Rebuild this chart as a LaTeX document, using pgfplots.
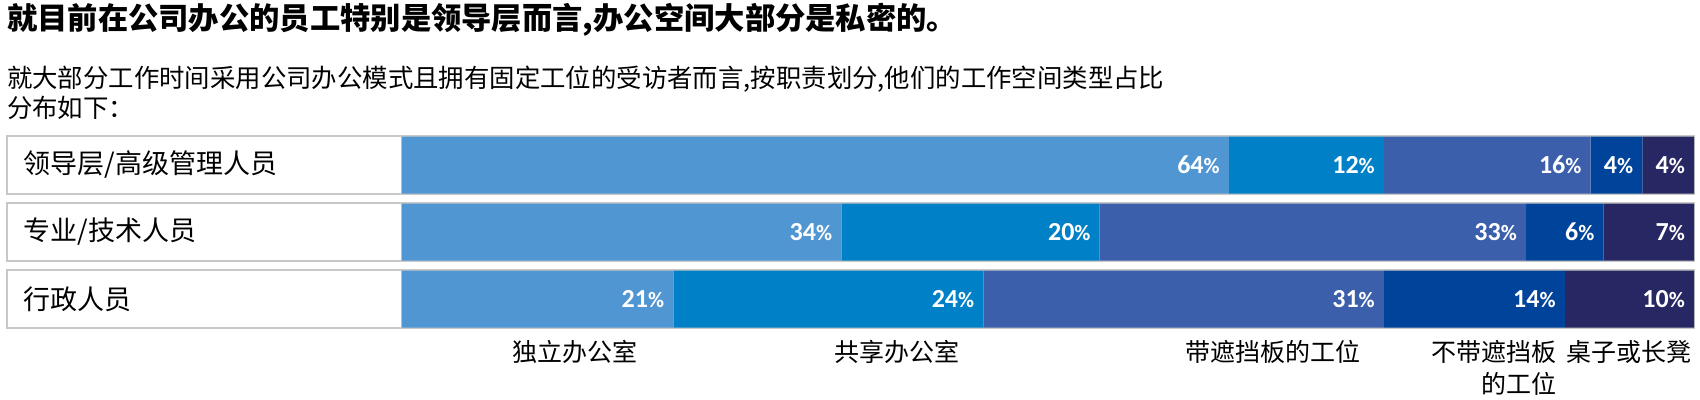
\documentclass[border=0pt]{standalone}
\usepackage{fontspec}
\setmainfont{Carlito}
\newfontfamily\cjk{Noto Sans CJK SC}
\usepackage{pgfplots}
\pgfplotsset{compat=1.18}
\definecolor{c1}{HTML}{5096D2}
\definecolor{c2}{HTML}{0080C6}
\definecolor{c3}{HTML}{3C5FAB}
\definecolor{c4}{HTML}{00439A}
\definecolor{c5}{HTML}{272863}
\definecolor{rowframe}{HTML}{C8C8C8}
\pgfplotsset{rowaxis/.style={
  at={(7pt,-332.5pt)}, anchor=south west,
  scale only axis, width=1687pt, height=201pt,
  xmin=-30.57, xmax=100, ymin=-0.5, ymax=2.5,
  y dir=reverse, hide axis, clip=false}}
\begin{document}
\begin{tikzpicture}
\path[use as bounding box] (0,0) rectangle (1700pt,-399pt);
\node[anchor=west, inner sep=0pt, font=\cjk\bfseries\fontsize{30.3pt}{33pt}\selectfont] at (7pt,-20pt) {就目前在公司办公的员工特别是领导层而言,办公空间大部分是私密的。};
\node[anchor=west, inner sep=0pt, font=\cjk\fontsize{25.4pt}{29pt}\selectfont] at (7pt,-79pt) {就大部分工作时间采用公司办公模式且拥有固定工位的受访者而言,按职责划分,他们的工作空间类型占比};
\node[anchor=west, inner sep=0pt, font=\cjk\fontsize{25.4pt}{29pt}\selectfont] at (7pt,-108pt) {分布如下：};
\begin{axis}[rowaxis, xbar stacked, bar width=57pt]
\addplot[fill=c1, draw=none] coordinates {(64,0) (34,1) (21,2)};
\addplot[fill=c2, draw=none] coordinates {(12,0) (20,1) (24,2)};
\addplot[fill=c3, draw=none] coordinates {(16,0) (33,1) (31,2)};
\addplot[fill=c4, draw=none] coordinates {(4,0) (6,1) (14,2)};
\addplot[fill=c5, draw=none] coordinates {(4,0) (7,1) (10,2)};
\draw[rowframe, line width=1.6pt] (axis cs:-30.57,-0.435) rectangle (axis cs:100,0.435);
\draw[rowframe, line width=1.6pt] (axis cs:-30.57,0.565) rectangle (axis cs:100,1.435);
\draw[rowframe, line width=1.6pt] (axis cs:-30.57,1.565) rectangle (axis cs:100,2.435);
\draw[rowframe, line width=1.6pt] (axis cs:0,-0.435) -- (axis cs:0,0.435);
\draw[rowframe, line width=1.6pt] (axis cs:0,0.565) -- (axis cs:0,1.435);
\draw[rowframe, line width=1.6pt] (axis cs:0,1.565) -- (axis cs:0,2.435);
\node[anchor=west, font=\cjk\fontsize{27pt}{30pt}\selectfont, xshift=13pt] at (axis cs:-30.57,0) {领导层/高级管理人员};
\node[anchor=west, font=\cjk\fontsize{27pt}{30pt}\selectfont, xshift=13pt] at (axis cs:-30.57,1) {专业/技术人员};
\node[anchor=west, font=\cjk\fontsize{27pt}{30pt}\selectfont, xshift=13pt] at (axis cs:-30.57,2) {行政人员};
\end{axis}
% value labels: at the right end of each segment (cumulative share), meta = segment share
\begin{axis}[rowaxis,
  point meta=explicit,
  /pgf/number format/assume math mode=true,
  nodes near coords={\pgfmathprintnumber{\pgfplotspointmeta}{\fontsize{22pt}{24pt}\selectfont\%}},
  every node near coord/.append style={anchor=east, xshift=-9pt, text=white, inner sep=0pt, font=\bfseries\fontsize{26pt}{28pt}\selectfont}]
\addplot[draw=none, mark=none] coordinates {(64,0) [64] (76,0) [12] (92,0) [16] (96,0) [4] (100,0) [4]};
\addplot[draw=none, mark=none] coordinates {(34,1) [34] (54,1) [20] (87,1) [33] (93,1) [6] (100,1) [7]};
\addplot[draw=none, mark=none] coordinates {(21,2) [21] (45,2) [24] (76,2) [31] (90,2) [14] (100,2) [10]};
\end{axis}
\begin{scope}[every node/.style={inner sep=0pt, font=\cjk\fontsize{25pt}{29pt}\selectfont}]
\node at (574.6pt,-352pt) {独立办公室};
\node at (897pt,-352pt) {共享办公室};
\node at (1273pt,-352pt) {带遮挡板的工位};
\node[anchor=east] at (1557pt,-352pt) {不带遮挡板};
\node[anchor=east] at (1557pt,-384pt) {的工位};
\node at (1629pt,-352pt) {桌子或长凳};
\end{scope}
\end{tikzpicture}
\end{document}
